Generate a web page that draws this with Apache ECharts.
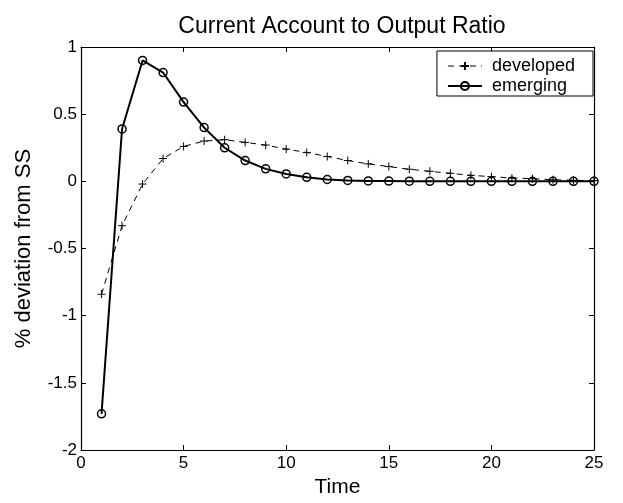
<!DOCTYPE html>
<html>
<head>
<meta charset="utf-8">
<script src="https://cdn.jsdelivr.net/npm/echarts@6/dist/echarts.min.js"></script>
<style>
  html, body { margin: 0; padding: 0; background: #fff; }
  #chart { width: 623px; height: 503px; }
</style>
</head>
<body>
<div id="chart"></div>
<script>
// Periods after the shock
const periods = [1, 2, 3, 4, 5, 6, 7, 8, 9, 10, 11, 12, 13, 14, 15, 16, 17, 18, 19, 20, 21, 22, 23, 24, 25];

// Current account / output, % deviation from steady state
const developed = [-0.84, -0.33, -0.02, 0.17, 0.26, 0.30, 0.31, 0.29, 0.27, 0.24, 0.215, 0.185, 0.155,
  0.13, 0.11, 0.09, 0.075, 0.06, 0.045, 0.035, 0.025, 0.02, 0.012, 0.008, 0.005];
const emerging = [-1.73, 0.39, 0.90, 0.81, 0.59, 0.40, 0.25, 0.155, 0.093, 0.055, 0.03, 0.014, 0.007,
  0.003, 0.002, 0.001, 0, 0, 0, 0, 0, 0, 0, 0, 0];

const xTicks = { min: 0, max: 25, interval: 5 };
const yTicks = { min: -2, max: 1, interval: 0.5 };

const FONT = 'Liberation Sans, Arial, sans-serif';
const plusSymbol = 'path://M0,5L10,5M5,0L5,10';

const pair = arr => periods.map((t, i) => [t, arr[i]]);

const chart = echarts.init(document.getElementById('chart'), null, { renderer: 'canvas' });

const baseAxis = {
  axisLine: { show: true, onZero: false, lineStyle: { color: '#000', width: 1.2 } },
  axisTick: { show: true, inside: true, length: 5, lineStyle: { color: '#000', width: 1 } },
  splitLine: { show: false },
  axisLabel: { color: '#000', fontFamily: FONT, fontSize: 17 }
};

chart.setOption({
  animation: false,
  backgroundColor: '#fff',
  title: {
    text: 'Current Account to Output Ratio',
    left: 337, top: 10, textAlign: 'center',
    textStyle: { color: '#000', fontFamily: FONT, fontSize: 23, fontWeight: 'normal' }
  },
  grid: { left: 81, right: 29, top: 47, bottom: 50 },
  legend: {
    right: 30, top: 51, orient: 'vertical',
    itemWidth: 34, itemHeight: 10, itemGap: 2,
    padding: [6, 18, 1, 10],
    borderColor: '#000', borderWidth: 1, backgroundColor: '#fff',
    lineStyle: { width: 'inherit' },
    textStyle: { color: '#000', fontFamily: FONT, fontSize: 18, padding: [0, 0, 0, 5] },
    data: ['developed', 'emerging']
  },
  xAxis: [
    Object.assign({}, baseAxis, {
      type: 'value', position: 'bottom', min: xTicks.min, max: xTicks.max, interval: xTicks.interval,
      name: 'Time', nameLocation: 'middle', nameGap: 25,
      nameTextStyle: { color: '#000', fontFamily: FONT, fontSize: 21 },
      axisLabel: Object.assign({}, baseAxis.axisLabel, { margin: 5 })
    }),
    Object.assign({}, baseAxis, {
      type: 'value', position: 'top', min: xTicks.min, max: xTicks.max, interval: xTicks.interval,
      axisLabel: { show: false }
    })
  ],
  yAxis: [
    Object.assign({}, baseAxis, {
      type: 'value', position: 'left', min: yTicks.min, max: yTicks.max, interval: yTicks.interval,
      name: '% deviation from SS', nameLocation: 'middle', nameGap: 46,
      nameTextStyle: { color: '#000', fontFamily: FONT, fontSize: 22 },
      axisLabel: Object.assign({}, baseAxis.axisLabel, { margin: 4 })
    }),
    Object.assign({}, baseAxis, {
      type: 'value', position: 'right', min: yTicks.min, max: yTicks.max, interval: yTicks.interval,
      axisLabel: { show: false }
    })
  ],
  series: [
    {
      name: 'developed', type: 'line', data: pair(developed),
      xAxisIndex: 0, yAxisIndex: 0,
      symbol: plusSymbol, symbolSize: 8, showAllSymbol: true,
      lineStyle: { color: '#000', width: 1, type: [6, 5] },
      itemStyle: { color: '#000', borderColor: '#000', borderWidth: 1 },
      z: 2
    },
    {
      name: 'emerging', type: 'line', data: pair(emerging),
      xAxisIndex: 0, yAxisIndex: 0,
      symbol: 'circle', symbolSize: 8, showAllSymbol: true,
      lineStyle: { color: '#000', width: 2 },
      itemStyle: { color: 'rgba(255,255,255,0)', borderColor: '#000', borderWidth: 1.5 },
      z: 3
    }
  ]
});
</script>
</body>
</html>
